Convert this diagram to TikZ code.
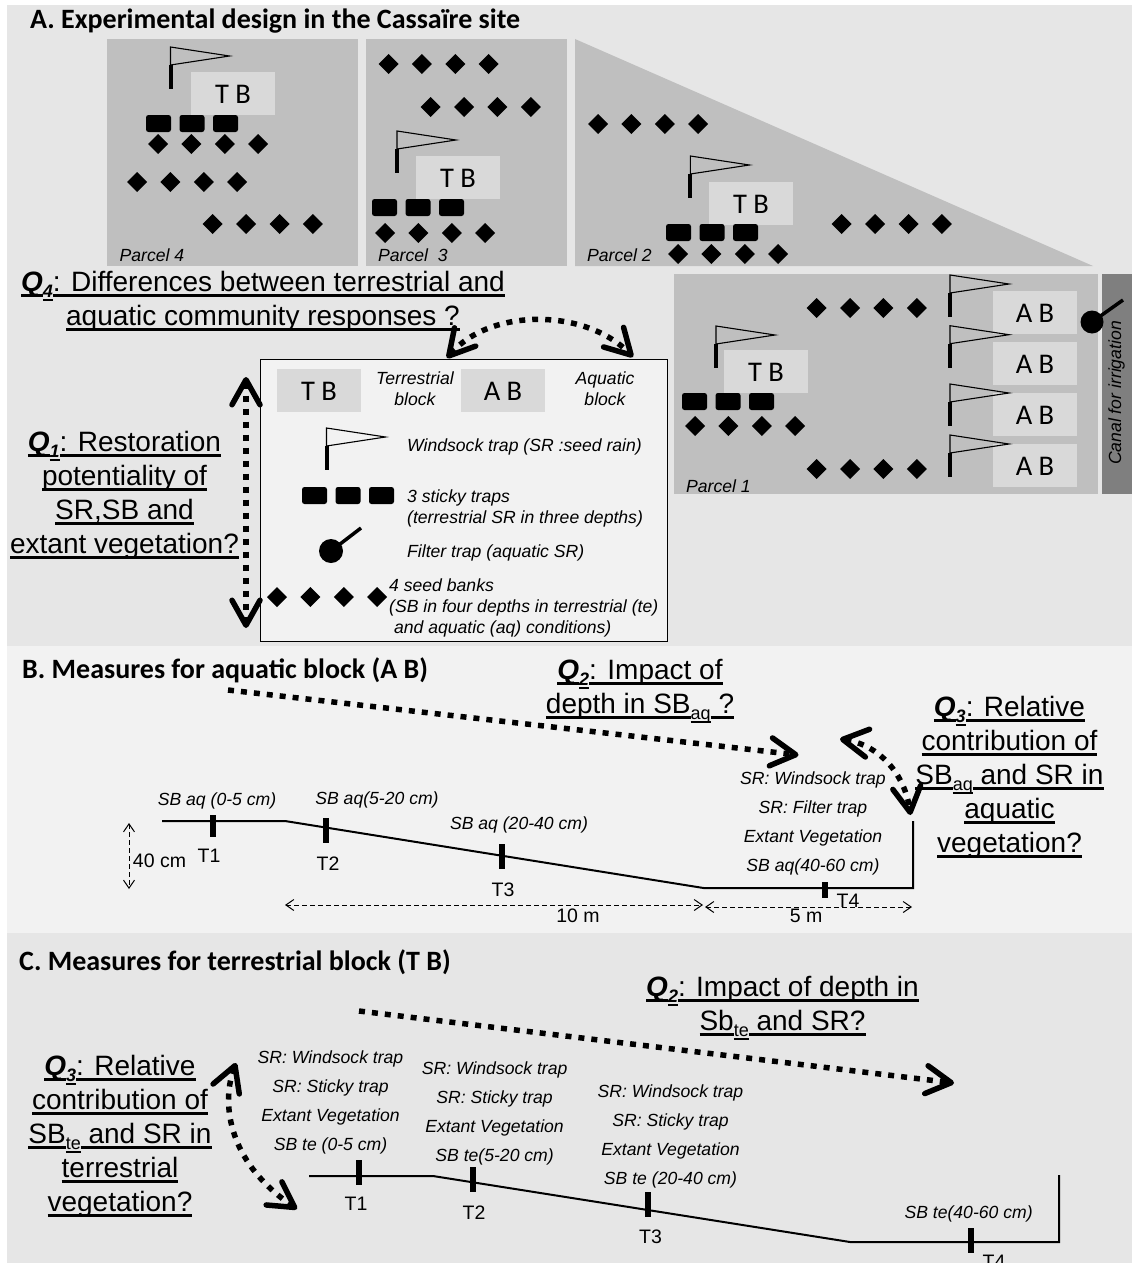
\documentclass[tikz,border=0pt]{standalone}
\usepackage{fontspec}
\setmainfont{Liberation Sans}
\newfontfamily\cali{Carlito}
\usetikzlibrary{arrows.meta}
\definecolor{panelA}{HTML}{E6E6E6}
\definecolor{panelB}{HTML}{F2F2F2}
\definecolor{parcel}{HTML}{BFBFBF}
\definecolor{blockc}{HTML}{D9D9D9}
\definecolor{canal}{HTML}{7F7F7F}
% underlined question text
\newcommand{\qu}[1]{\leavevmode\setbox0\hbox{#1}\hbox{\rlap{\vrule width\wd0 height -3pt depth 5.5pt}\box0}}
\newcommand{\qQ}[1]{\qu{\textbf{\textit{Q}}}\raisebox{-6pt}{\fontsize{18}{18}\selectfont\setbox0\hbox{\textbf{\textit{#1}}}\hbox{\rlap{\vrule width\wd0 height -1.5pt depth 4pt}\box0}}}
\newcommand{\qsb}[1]{\raisebox{-6pt}{\fontsize{18}{18}\selectfont\setbox0\hbox{#1}\hbox{\rlap{\vrule width\wd0 height -1.5pt depth 4pt}\box0}}}
\tikzset{
  x=1pt,y=-1pt,
  title/.style={anchor=west,inner sep=0,font=\cali\bfseries\fontsize{28}{30}\selectfont},
  blockbox/.style={fill=blockc,inner sep=0,minimum width=84,minimum height=43,text height=20pt,text depth=0pt,font=\cali\fontsize{28.5}{30}\selectfont},
  small/.style={inner sep=0,font=\itshape\fontsize{17.6}{21}\selectfont},
  srcol/.style={inner sep=0,align=center,font=\itshape\fontsize{17.6}{29}\selectfont},
  quest/.style={inner sep=0,align=center,font=\fontsize{28}{34}\selectfont},
  tlabel/.style={inner sep=0,font=\fontsize{19.5}{20}\selectfont},
  bigdots/.style={line width=5.5pt,dash pattern=on 6pt off 7pt},
  barb/.style={-{Straight Barb[length=25pt,width=28pt,line width=5.5pt,round]}},
  dbarb/.style={{Straight Barb[length=25pt,width=28pt,line width=5.5pt,round]}-{Straight Barb[length=25pt,width=28pt,line width=5.5pt,round]}},
  thinarrow/.style={line width=1pt,dash pattern=on 5pt off 3pt,{Straight Barb[length=8pt,width=11pt,line width=1pt]}-{Straight Barb[length=8pt,width=11pt,line width=1pt]}},
  profile/.style={line width=2pt},
  tick/.style={line width=6pt},
}
\newcommand{\fourdia}[2]{\foreach \i in {0,1,2,3}{\fill[line join=round] (#1+\i*33.4-10,#2) -- ++(10,-10) -- ++(10,10) -- ++(-10,10) -- cycle;}}
\newcommand{\flagtrap}[2]{%
  \draw[line width=1.1pt,fill=none] (#1,#2+18) -- (#1,#2) -- (#1+59,#2+9) -- cycle;
  \draw[line width=4pt] (#1,#2+18) -- (#1,#2+42);}
\newcommand{\sticky}[2]{\foreach \i in {0,1,2}{\fill[rounded corners=2.5pt] (#1+\i*33.5,#2) rectangle ++(25,17);}}
\begin{document}
\begin{tikzpicture}
\clip (0,0) rectangle (1132,1263);
\fill[white] (0,0) rectangle (1132,1263);
% panels
\fill[panelA] (6.5,5) rectangle (1132,646);
\fill[panelB] (6.5,646) rectangle (1132,933);
\fill[panelA] (6.5,933) rectangle (1132,1263);
\node[title] (titleA) at (30,21) {A. Experimental design in the Cassaïre site};
\node[title] (titleB) at (22,670) {B. Measures for aquatic block (A B)};
\node[title] (titleC) at (19,962) {C. Measures for terrestrial block (T B)};
% parcels
\fill[parcel] (107,39) rectangle (358,266);
\fill[parcel] (366,39) rectangle (567,266);
\fill[parcel] (575,39) -- (1093,266) -- (575,266) -- cycle;
\fill[parcel] (674,274) rectangle (1098,494);
\fill[canal] (1102,274) rectangle (1132,494);
% parcel 4
\node[blockbox] (tb4) at (233,93.5) {T B};
\flagtrap{170.5}{47}
\sticky{146}{115}
\fourdia{158}{144}
\fourdia{137}{182}
\fourdia{212.7}{224}
\node[small,anchor=west] (p4) at (119.5,255) {Parcel 4};
% parcel 3
\fourdia{388.5}{64}
\fourdia{430.6}{107}
\node[blockbox] (tb3) at (458,177.5) {T B};
\flagtrap{397}{131}
\sticky{372}{199}
\fourdia{385}{233}
\node[small,anchor=west] (p3) at (378,255) {Parcel\ \ 3};
% parcel 2
\fourdia{598}{124}
\node[blockbox] (tb2) at (751,203) {T B};
\flagtrap{690.4}{156}
\sticky{666}{224}
\fourdia{678}{254}
\fourdia{841.7}{224}
\node[small,anchor=west] (p2) at (587,255) {Parcel 2};
% parcel 1
\fourdia{816.6}{308}
\fourdia{816.6}{469}
\node[blockbox] (tb1) at (766,371.5) {T B};
\flagtrap{716}{326}
\sticky{682}{393}
\fourdia{695}{426}
\node[blockbox] (ab1) at (1035,312.5) {A B};
\node[blockbox] (ab2) at (1035,363.5) {A B};
\node[blockbox] (ab3) at (1035,414) {A B};
\node[blockbox] (ab4) at (1035,465) {A B};
\flagtrap{950}{275}
\flagtrap{950}{325.7}
\flagtrap{950}{384}
\flagtrap{950}{435}
\node[small,anchor=west] (p1) at (686,486) {Parcel 1};
\node[small,rotate=90] (canaltxt) at (1116.5,393) {Canal for irrigation};
\fill (1092,322) circle (11.5);
\draw[line width=3.5pt] (1092,322) -- (1123,300);
% legend
\draw[fill=panelB,line width=1pt] (260,359) rectangle (667,641);
\node[blockbox] (tbl) at (319,390.5) {T B};
\node[blockbox] (abl) at (503,390.5) {A B};
\node[small,align=center] (tbt) at (415,389) {Terrestrial\\block};
\node[small,align=center] (abt) at (605,389) {Aquatic\\block};
\flagtrap{326.5}{428}
\node[small,anchor=west] (wind) at (407,447) {Windsock trap (SR :seed rain)};
\sticky{302}{487}
\node[small,anchor=west,align=left] (stk) at (407,508) {3 sticky traps\\(terrestrial SR in three depths)};
\fill (331,551) circle (12);
\draw[line width=3.5pt] (331,551) -- (361,528);
\node[small,anchor=west] (filt) at (407,553) {Filter trap (aquatic SR)};
\fourdia{277}{597}
\node[small,anchor=west,align=left] (seed) at (389,608) {4 seed banks\\(SB in four depths in terrestrial (te)\\\ and aquatic (aq) conditions)};
% Q4
\node[quest] (q4) at (263,301) {\qQ{4}\qu{: Differences between terrestrial and}\\\qu{aquatic community responses ?}};
\coordinate (q4a) at (447,358);
\coordinate (q4b) at (633,357);
\draw[bigdots,dbarb] (q4a) .. controls (490,308) and (585,308) .. (q4b);
% Q1
\node[quest] (q1) at (124.5,495) {\qQ{1}\qu{: Restoration}\\\qu{potentiality of}\\\qu{SR,SB and}\\\qu{extant vegetation?}};
\coordinate (q1a) at (246,377);
\coordinate (q1b) at (246,628);
\draw[bigdots,dbarb] (q1a) -- (q1b);
% section B
\node[quest] (q2b) at (640,691) {\qQ{2}\qu{: Impact of}\\\qu{depth in SB}\qsb{aq}\qu{ ?}};
\coordinate (q2bs) at (228,690);
\coordinate (q2be) at (798.5,755);
\draw[bigdots,barb] (q2bs) -- (q2be);
\node[quest] (q3b) at (1009.5,777) {\qQ{3}\qu{: Relative}\\\qu{contribution of}\\\qu{SB}\qsb{aq}\qu{ and SR in}\\\qu{aquatic}\\\qu{vegetation?}};
\coordinate (q3ba) at (840,739);
\coordinate (q3bb) at (910.5,815);
\draw[bigdots,dbarb] (q3ba) .. controls (880,745) and (905,775) .. (q3bb);
\node[srcol] (srb) at (813,823.5) {SR: Windsock trap\\SR: Filter trap\\Extant Vegetation\\SB aq(40-60 cm)};
\draw[profile] (162,821) -- (285,821) -- (703.5,888) -- (913,888) -- (913,821);
\draw[tick] (212.7,815) -- (212.7,837);
\draw[tick] (326,818) -- (326,843);
\draw[tick] (502,844) -- (502,869);
\draw[tick] (824.6,882) -- (824.6,898);
\node[tlabel] (bt1) at (209,856) {T1};
\node[tlabel] (bt2) at (328,864) {T2};
\node[tlabel] (bt3) at (503,890) {T3};
\node[tlabel] (bt4) at (848,901) {T4};
\node[small] (sb1) at (217,801) {SB aq (0-5 cm)};
\node[small] (sb2) at (377,800) {SB aq(5-20 cm)};
\node[small] (sb3) at (519,825) {SB aq (20-40 cm)};
\coordinate (d0a) at (129,823);
\coordinate (d0b) at (129,889);
\draw[thinarrow] (d0a) -- (d0b);
\node[tlabel] (h40) at (159.5,861) {40 cm};
\coordinate (d1a) at (285,905);
\coordinate (d1b) at (703,905);
\coordinate (d2a) at (705,907);
\coordinate (d2b) at (912,907);
\draw[thinarrow] (d1a) -- (d1b);
\draw[thinarrow] (d2a) -- (d2b);
\node[tlabel] (m10) at (578,916) {10 m};
\node[tlabel] (m5) at (806,916) {5 m};
% section C
\node[quest] (q2c) at (782.5,1008) {\qQ{2}\qu{: Impact of depth in}\\\qu{Sb}\qsb{te}\qu{ and SR?}};
\coordinate (q2cs) at (359,1011);
\coordinate (q2ce) at (954,1083);
\draw[bigdots,barb] (q2cs) -- (q2ce);
\node[quest] (q3c) at (120,1136) {\qQ{3}\qu{: Relative}\\\qu{contribution of}\\\qu{SB}\qsb{te}\qu{ and SR in}\\\qu{terrestrial}\\\qu{vegetation?}};
\coordinate (q3ca) at (236,1063);
\coordinate (q3cb) at (297,1209);
\draw[bigdots,dbarb] (q3ca) .. controls (222,1100) and (225,1160) .. (q3cb);
\node[srcol] (src1) at (330.5,1102) {SR: Windsock trap\\SR: Sticky trap\\Extant Vegetation\\SB te (0-5 cm)};
\node[srcol] (src2) at (494.6,1113) {SR: Windsock trap\\SR: Sticky trap\\Extant Vegetation\\SB te(5-20 cm)};
\node[srcol] (src3) at (670.5,1136) {SR: Windsock trap\\SR: Sticky trap\\Extant Vegetation\\SB te (20-40 cm)};
\node[small] (src4) at (968.6,1214) {SB te(40-60 cm)};
\draw[profile] (309,1176) -- (433,1176) -- (850,1242) -- (1059,1242) -- (1059,1175);
\draw[tick] (359,1160) -- (359,1185);
\draw[tick] (472.5,1167) -- (472.5,1192);
\draw[tick] (648,1192) -- (648,1217);
\draw[tick] (971,1228) -- (971,1253);
\node[tlabel] (ct1) at (356,1204) {T1};
\node[tlabel] (ct2) at (474,1213) {T2};
\node[tlabel] (ct3) at (650.5,1237) {T3};
\node[tlabel] (ct4) at (994,1262) {T4};
\end{tikzpicture}
\end{document}
